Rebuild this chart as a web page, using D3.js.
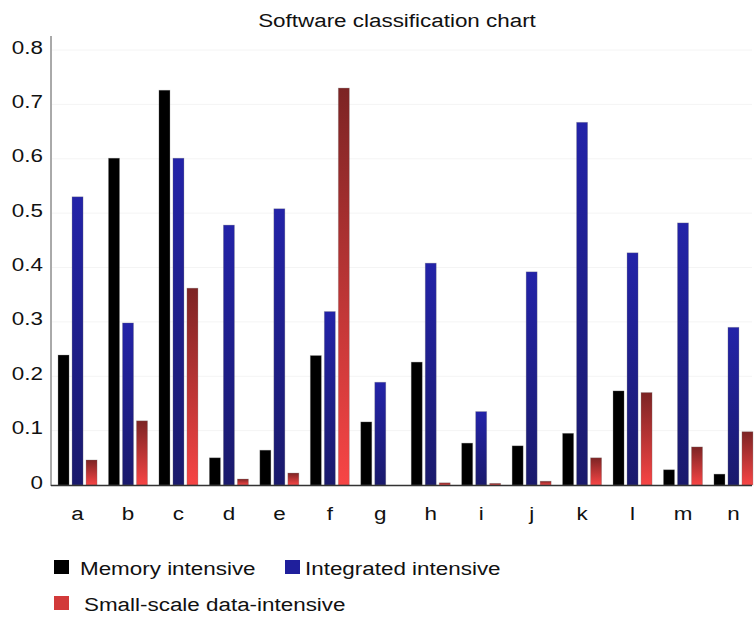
<!DOCTYPE html>
<html>
<head>
<meta charset="utf-8">
<script src="https://cdn.jsdelivr.net/npm/d3@7.8.5/dist/d3.min.js"></script>
<style>
  html, body { margin: 0; padding: 0; background: #fff; }
  svg { display: block; }
  text { font-family: "Liberation Sans", Arial, sans-serif; fill: #111; }
</style>
</head>
<body>
<svg id="chart" width="756" height="618"></svg>
<script>
// data
const categories = ['a', 'b', 'c', 'd', 'e', 'f', 'g', 'h', 'i', 'j', 'k', 'l', 'm', 'n'];
const seriesNames = ['Memory intensive', 'Integrated intensive', 'Small-scale data-intensive'];
const memoryValues = [0.239, 0.601, 0.726, 0.050, 0.064, 0.238, 0.116, 0.226, 0.077, 0.072, 0.095, 0.173, 0.028, 0.020];
const integratedValues = [0.530, 0.298, 0.601, 0.478, 0.508, 0.319, 0.189, 0.408, 0.135, 0.392, 0.667, 0.427, 0.482, 0.290];
const smallScaleValues = [0.046, 0.118, 0.362, 0.011, 0.022, 0.730, 0, 0.004, 0.003, 0.007, 0.050, 0.170, 0.070, 0.098];
const yTicks = [0, 0.1, 0.2, 0.3, 0.4, 0.5, 0.6, 0.7, 0.8];

// the reference text is drawn a bit wide
const stretch = 'scale(1.18,1)';
const fontSize = '19px';

const svg = d3.select('#chart');
const defs = svg.append('defs');

// bar fills: gradients top -> bottom
function grad(id, top, bottom) {
    const g = defs.append('linearGradient')
        .attr('id', id)
        .attr('x1', 0).attr('y1', 0).attr('x2', 0).attr('y2', 1);
    g.append('stop').attr('offset', '0%').attr('stop-color', top);
    g.append('stop').attr('offset', '100%').attr('stop-color', bottom);
}
grad('g-black', '#000', '#000');
grad('g-blue', '#2323a8', '#1a1a6c');
grad('g-red', '#7c2424', '#f74545');

const fills = ['url(#g-black)', 'url(#g-blue)', 'url(#g-red)'];
const legendColors = ['#000', '#1f1f9c', '#d23a3a'];

const rows = categories.map((c, i) => ({
    cat: c,
    values: [memoryValues[i], integratedValues[i], smallScaleValues[i]]
}));

// scales
const x = d3.scaleBand()
    .domain(categories)
    .range([53, 758])
    .paddingInner(0.227)
    .paddingOuter(0.1);

const xInner = d3.scaleBand()
    .domain(d3.range(3))
    .range([0, x.bandwidth()])
    .paddingInner(0.214);

const y = d3.scaleLinear()
    .domain([0, 0.8])
    .range([485, 50]);

// faint grid
svg.append('g')
    .selectAll('line')
    .data(yTicks.slice(1))
    .enter()
    .append('line')
    .attr('x1', 52).attr('x2', 752)
    .attr('y1', d => y(d)).attr('y2', d => y(d))
    .attr('stroke', '#f4f4f4')
    .attr('stroke-width', 1);

// bars
const groups = svg.append('g')
    .selectAll('g.grp')
    .data(rows)
    .enter()
    .append('g')
    .attr('class', 'grp')
    .attr('transform', d => `translate(${x(d.cat)},0)`);

groups.selectAll('rect')
    .data(d => d.values.map((v, k) => ({ v, k })))
    .enter()
    .append('rect')
    .attr('x', d => xInner(d.k))
    .attr('width', xInner.bandwidth())
    .attr('y', d => y(d.v))
    .attr('height', d => y(0) - y(d.v))
    .attr('fill', d => fills[d.k])
    .attr('stroke', 'rgba(120,120,120,0.35)')
    .attr('stroke-width', 0.8);

// y axis
const yAxis = svg.append('g')
    .attr('transform', 'translate(51,0)')
    .call(d3.axisLeft(y).tickValues(yTicks).tickSize(0)
        .tickFormat(d => d === 0 ? '0' : d3.format('.1f')(d)));
yAxis.select('.domain').remove();
yAxis.selectAll('text')
    .attr('x', 0)
    .attr('dy', '0.32em')
    .attr('transform', `translate(-8,-3) ${stretch}`)
    .style('font-size', fontSize)
    .style('font-family', '"Liberation Sans", Arial, sans-serif')
    .attr('fill', '#111');

svg.append('line')
    .attr('x1', 51).attr('x2', 51)
    .attr('y1', 36).attr('y2', 486)
    .attr('stroke', '#555')
    .attr('stroke-width', 1);

// x axis
const xAxis = svg.append('g')
    .attr('transform', `translate(0,${y(0)})`)
    .call(d3.axisBottom(x).tickSize(0));
xAxis.select('.domain').remove();
xAxis.selectAll('.tick text')
    .attr('x', 0)
    .attr('y', 0)
    .attr('dy', null)
    .attr('transform', `translate(0,35) ${stretch}`)
    .style('font-size', fontSize)
    .style('font-family', '"Liberation Sans", Arial, sans-serif')
    .attr('fill', '#111');

svg.append('line')
    .attr('x1', 51).attr('x2', 752)
    .attr('y1', 485.5).attr('y2', 485.5)
    .attr('stroke', '#333')
    .attr('stroke-width', 1.5);

// title
svg.append('text')
    .attr('transform', `translate(397,27) ${stretch}`)
    .attr('text-anchor', 'middle')
    .style('font-size', fontSize)
    .text('Software classification chart');

// legend
const legendItems = [
    { sx: 54, sy: 560, tx: 80, ty: 575 },
    { sx: 285, sy: 560, tx: 305, ty: 575 },
    { sx: 54, sy: 596, tx: 84, ty: 611 }
];
const legend = svg.append('g')
    .selectAll('g')
    .data(seriesNames)
    .enter()
    .append('g');

legend.append('rect')
    .attr('x', (d, i) => legendItems[i].sx)
    .attr('y', (d, i) => legendItems[i].sy)
    .attr('width', 15)
    .attr('height', 14)
    .attr('fill', (d, i) => legendColors[i]);

legend.append('text')
    .attr('transform', (d, i) => `translate(${legendItems[i].tx},${legendItems[i].ty}) ${stretch}`)
    .style('font-size', fontSize)
    .text(d => d);
</script>
</body>
</html>
